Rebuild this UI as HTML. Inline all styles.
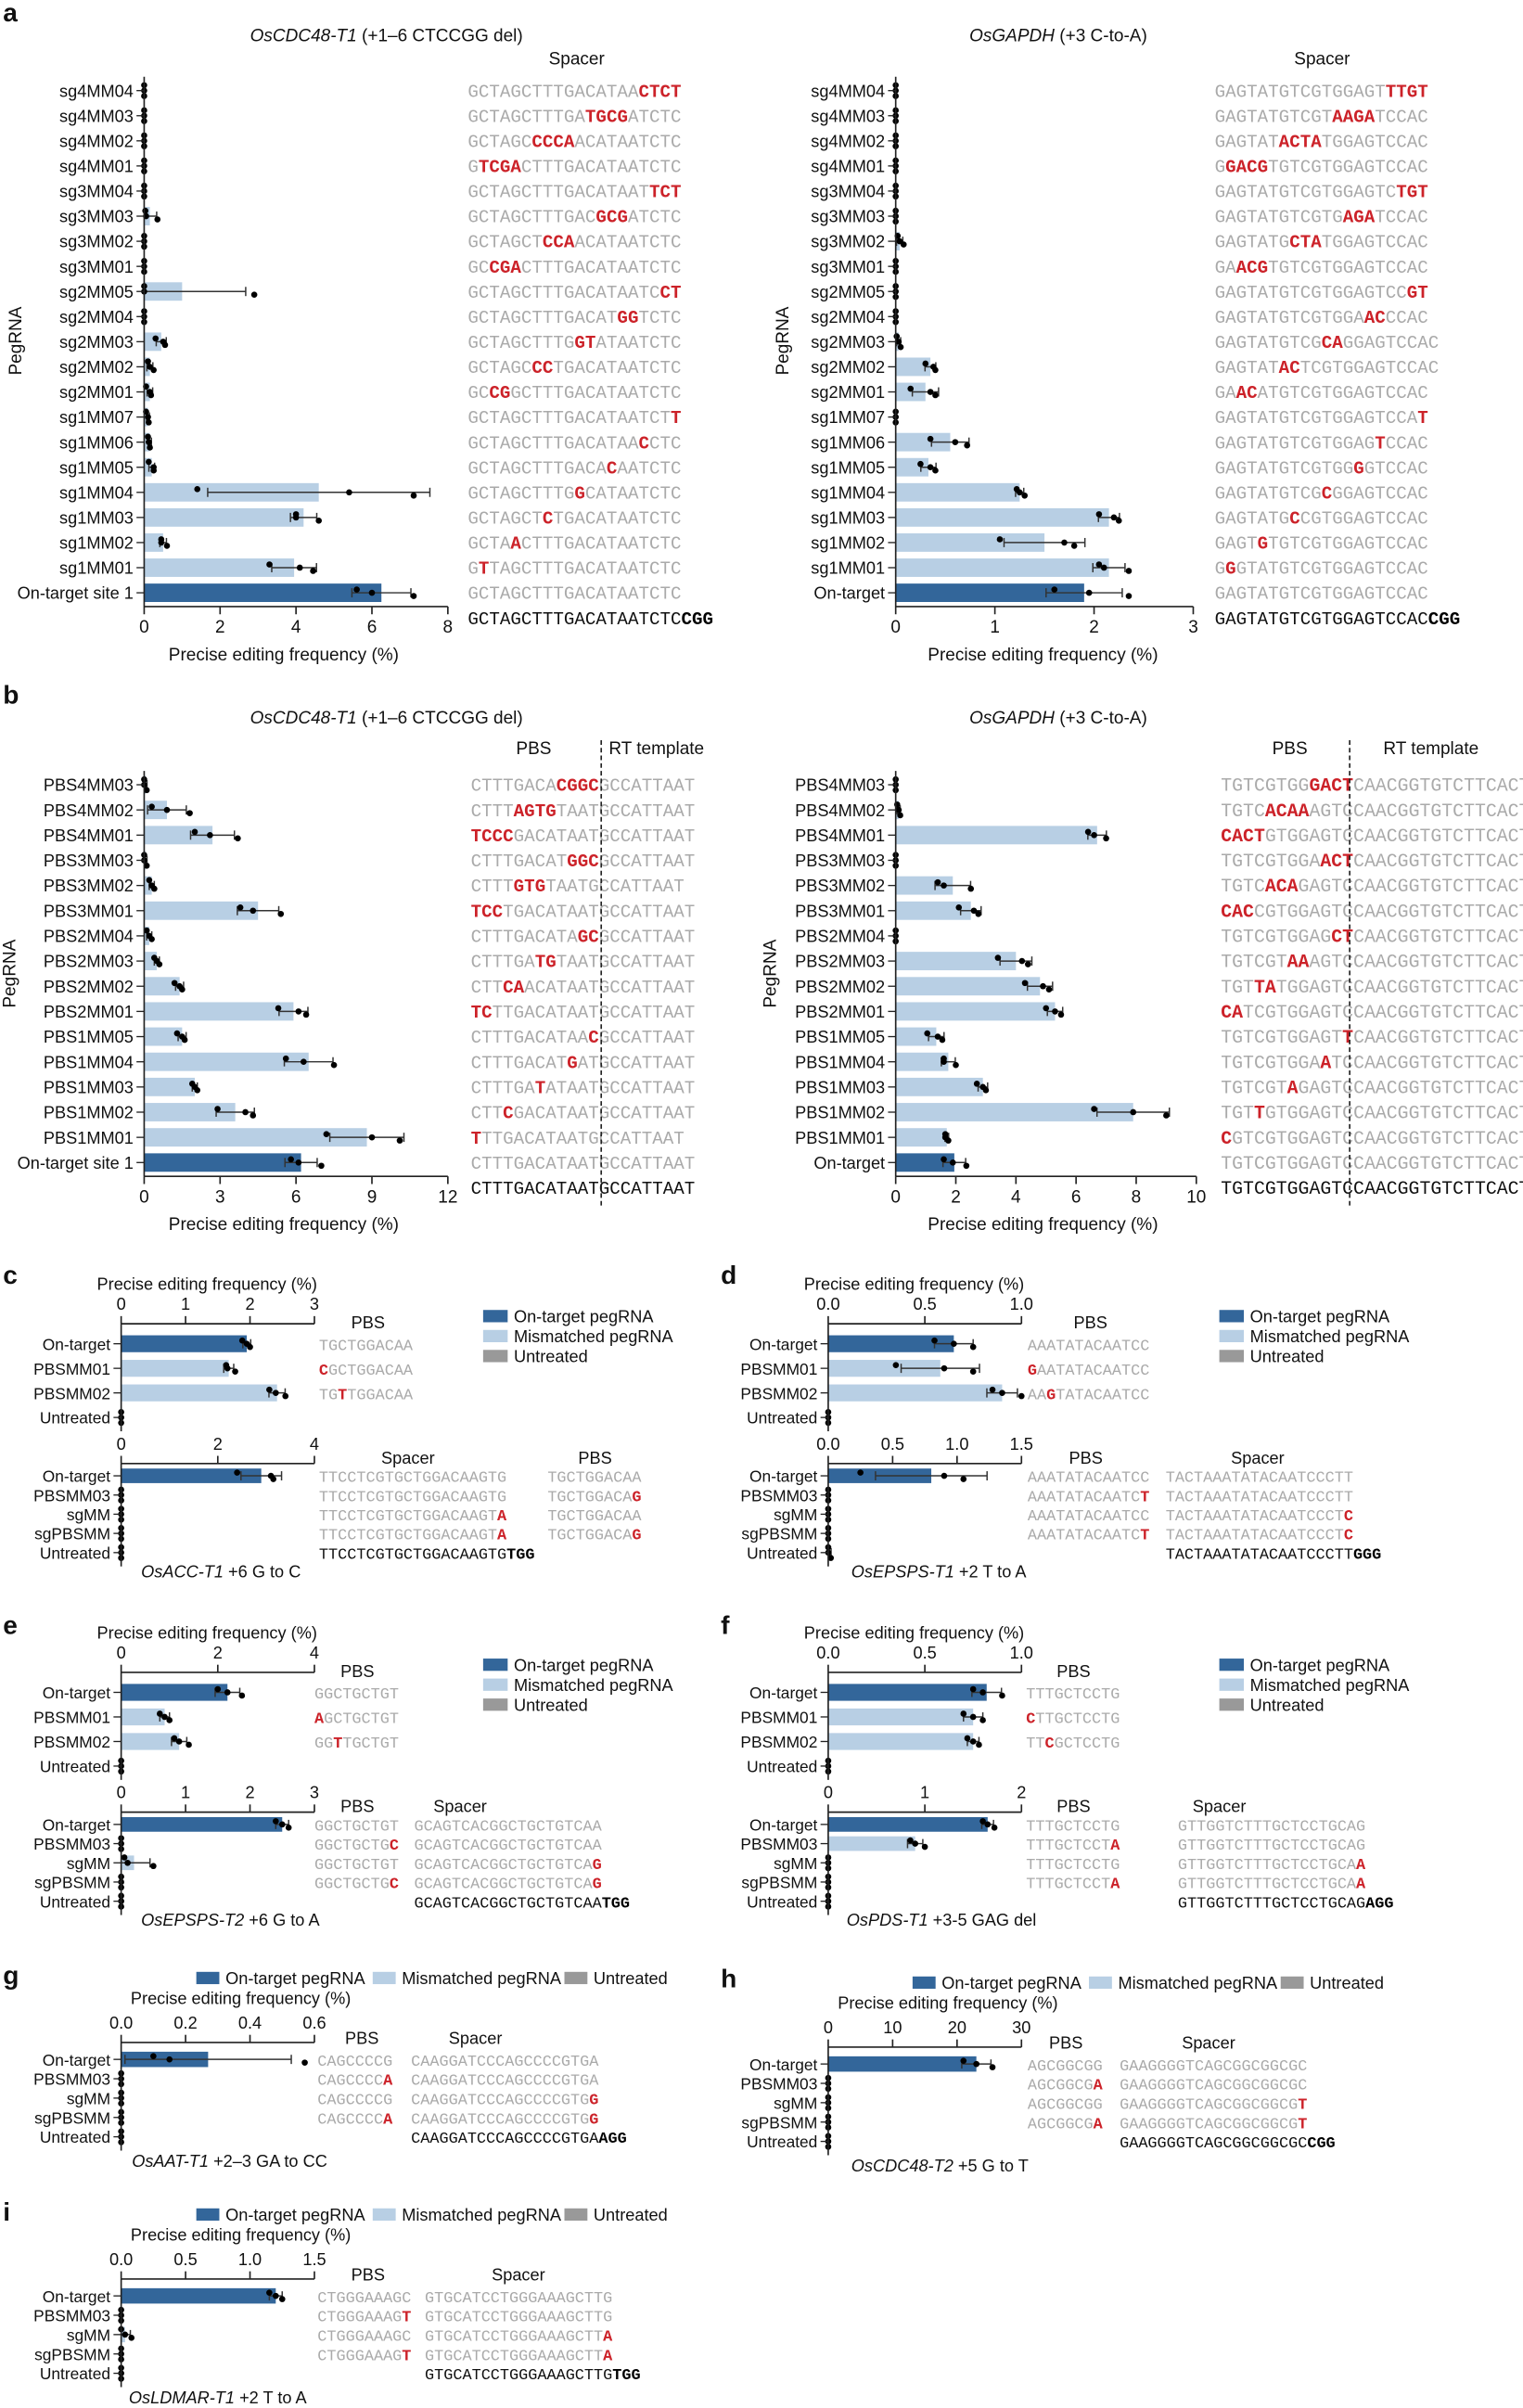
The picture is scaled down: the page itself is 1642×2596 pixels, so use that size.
<!DOCTYPE html>
<html><head><meta charset="utf-8"><style>
html,body{margin:0;padding:0;background:#fff}
svg{display:block}
text{font-family:"Liberation Sans Narrow","Liberation Sans",sans-serif;fill:#111}
.seq{font-family:"Liberation Mono",monospace}
</style></head><body>
<svg id="fig" xmlns="http://www.w3.org/2000/svg" width="1642" height="2596" viewBox="0 0 993 1568" preserveAspectRatio="none"></svg>
<script>
// ---------- DATA ----------
const aLCats=["sg4MM04","sg4MM03","sg4MM02","sg4MM01","sg3MM04","sg3MM03","sg3MM02","sg3MM01","sg2MM05","sg2MM04","sg2MM03","sg2MM02","sg2MM01","sg1MM07","sg1MM06","sg1MM05","sg1MM04","sg1MM03","sg1MM02","sg1MM01","On-target site 1"];
const aLVals=[0,0,0,0,0,0.15,0,0,1.0,0,0.45,0.15,0.15,0.1,0.15,0.2,4.6,4.2,0.5,3.95,6.25];
const aLDots=[[0,0,0],[0,0,0],[0,0,0],[0,0,0],[0,0,0],[0.03,0.05,0.35],[0,0,0],[0,0,0],[0,0,2.9],[0,0,0],[0.3,0.5,0.55],[0.1,0.15,0.25],[0.05,0.15,0.18],[0.05,0.1,0.12],[0.1,0.12,0.15],[0.12,0.25,0.25],[1.4,5.4,7.1],[4.0,4.0,4.6],[0.45,0.45,0.6],[3.3,4.1,4.45],[5.6,6.0,7.1]];
const aLSeqs=["GCTAGCTTTGACATAA[CTCT]","GCTAGCTTTGA[TGCG]ATCTC","GCTAGC[CCCA]ACATAATCTC","G[TCGA]CTTTGACATAATCTC","GCTAGCTTTGACATAAT[TCT]","GCTAGCTTTGAC[GCG]ATCTC","GCTAGCT[CCA]ACATAATCTC","GC[CGA]CTTTGACATAATCTC","GCTAGCTTTGACATAATC[CT]","GCTAGCTTTGACAT[GG]TCTC","GCTAGCTTTG[GT]ATAATCTC","GCTAGC[CC]TGACATAATCTC","GC[CG]GCTTTGACATAATCTC","GCTAGCTTTGACATAATCT[T]","GCTAGCTTTGACATAA[C]CTC","GCTAGCTTTGACA[C]AATCTC","GCTAGCTTTG[G]CATAATCTC","GCTAGCT[C]TGACATAATCTC","GCTA[A]CTTTGACATAATCTC","G[T]TAGCTTTGACATAATCTC","GCTAGCTTTGACATAATCTC","<GCTAGCTTTGACATAATCTC{CGG}"];
const aLTicks=[0,2,4,6,8];

const aRCats=["sg4MM04","sg4MM03","sg4MM02","sg4MM01","sg3MM04","sg3MM03","sg3MM02","sg3MM01","sg2MM05","sg2MM04","sg2MM03","sg2MM02","sg2MM01","sg1MM07","sg1MM06","sg1MM05","sg1MM04","sg1MM03","sg1MM02","sg1MM01","On-target"];
const aRVals=[0,0,0,0,0,0,0.04,0,0,0,0.03,0.35,0.3,0,0.55,0.33,1.25,2.15,1.5,2.15,1.9];
const aRDots=[[0,0,0],[0,0,0],[0,0,0],[0,0,0],[0,0,0],[0,0,0],[0.02,0.04,0.08],[0,0,0],[0,0,0],[0,0,0],[0.01,0.03,0.05],[0.3,0.38,0.4],[0.15,0.35,0.4],[0,0,0],[0.35,0.6,0.72],[0.25,0.35,0.4],[1.22,1.25,1.3],[2.05,2.2,2.25],[1.05,1.7,1.8],[2.05,2.1,2.35],[1.6,1.95,2.35]];
const aRSeqs=["GAGTATGTCGTGGAGT[TTGT]","GAGTATGTCGT[AAGA]TCCAC","GAGTAT[ACTA]TGGAGTCCAC","G[GACG]TGTCGTGGAGTCCAC","GAGTATGTCGTGGAGTC[TGT]","GAGTATGTCGTG[AGA]TCCAC","GAGTATG[CTA]TGGAGTCCAC","GA[ACG]TGTCGTGGAGTCCAC","GAGTATGTCGTGGAGTCC[GT]","GAGTATGTCGTGGA[AC]CCAC","GAGTATGTCG[CA]GGAGTCCAC","GAGTAT[AC]TCGTGGAGTCCAC","GA[AC]ATGTCGTGGAGTCCAC","GAGTATGTCGTGGAGTCCA[T]","GAGTATGTCGTGGAG[T]CCAC","GAGTATGTCGTGG[G]GTCCAC","GAGTATGTCG[C]GGAGTCCAC","GAGTATG[C]CGTGGAGTCCAC","GAGT[G]TGTCGTGGAGTCCAC","G[G]GTATGTCGTGGAGTCCAC","GAGTATGTCGTGGAGTCCAC","<GAGTATGTCGTGGAGTCCAC{CGG}"];
const aRTicks=[0,1,2,3];

const bLCats=["PBS4MM03","PBS4MM02","PBS4MM01","PBS3MM03","PBS3MM02","PBS3MM01","PBS2MM04","PBS2MM03","PBS2MM02","PBS2MM01","PBS1MM05","PBS1MM04","PBS1MM03","PBS1MM02","PBS1MM01","On-target site 1"];
const bLVals=[0.05,0.9,2.7,0.05,0.3,4.5,0.2,0.5,1.4,5.9,1.5,6.5,2.0,3.6,8.8,6.2];
const bLDots=[[0,0,0.1],[0.3,0.9,1.8],[2.0,2.6,3.7],[0,0,0.1],[0.2,0.3,0.4],[3.8,4.3,5.4],[0.1,0.2,0.3],[0.4,0.5,0.6],[1.2,1.4,1.5],[5.3,6.1,6.4],[1.3,1.5,1.6],[5.6,6.3,7.5],[1.9,2.0,2.1],[2.9,4.0,4.3],[7.2,9.0,10.1],[5.8,6.1,7.0]];
const bLSeqs=["CTTTGACA[CGGC]GCCATTAAT","CTTT[AGTG]TAATGCCATTAAT","[TCCC]GACATAATGCCATTAAT","CTTTGACAT[GGC]GCCATTAAT","CTTT[GTG]TAATGCCATTAAT","[TCC]TGACATAATGCCATTAAT","CTTTGACATA[GC]GCCATTAAT","CTTTGA[TG]TAATGCCATTAAT","CTT[CA]ACATAATGCCATTAAT","[TC]TTGACATAATGCCATTAAT","CTTTGACATAA[C]GCCATTAAT","CTTTGACAT[G]ATGCCATTAAT","CTTTGA[T]ATAATGCCATTAAT","CTT[C]GACATAATGCCATTAAT","[T]TTGACATAATGCCATTAAT","CTTTGACATAATGCCATTAAT","<CTTTGACATAATGCCATTAAT"];
const bLTicks=[0,3,6,9,12];

const bRCats=["PBS4MM03","PBS4MM02","PBS4MM01","PBS3MM03","PBS3MM02","PBS3MM01","PBS2MM04","PBS2MM03","PBS2MM02","PBS2MM01","PBS1MM05","PBS1MM04","PBS1MM03","PBS1MM02","PBS1MM01","On-target"];
const bRVals=[0,0.1,6.7,0,1.9,2.5,0,4.0,4.8,5.3,1.35,1.75,2.9,7.9,1.7,1.95];
const bRDots=[[0,0,0],[0.05,0.1,0.15],[6.4,6.6,7.0],[0,0,0],[1.4,1.6,2.5],[2.1,2.6,2.75],[0,0,0],[3.4,4.2,4.4],[4.3,4.9,5.1],[5.0,5.3,5.5],[1.05,1.4,1.55],[1.6,1.6,2.0],[2.7,2.9,3.0],[6.6,7.9,9.0],[1.65,1.65,1.75],[1.6,1.9,2.35]];
const bRSeqs=["TGTCGTGG[GACT]CAACGGTGTCTTCACT","TGTC[ACAA]AGTCCAACGGTGTCTTCACT","[CACT]GTGGAGTCCAACGGTGTCTTCACT","TGTCGTGGA[ACT]CAACGGTGTCTTCACT","TGTC[ACA]GAGTCCAACGGTGTCTTCACT","[CAC]CGTGGAGTCCAACGGTGTCTTCACT","TGTCGTGGAG[CT]CAACGGTGTCTTCACT","TGTCGT[AA]AGTCCAACGGTGTCTTCACT","TGT[TA]TGGAGTCCAACGGTGTCTTCACT","[CA]TCGTGGAGTCCAACGGTGTCTTCACT","TGTCGTGGAGT[T]CAACGGTGTCTTCACT","TGTCGTGGA[A]TCCAACGGTGTCTTCACT","TGTCGT[A]GAGTCCAACGGTGTCTTCACT","TGT[T]GTGGAGTCCAACGGTGTCTTCACT","[C]GTCGTGGAGTCCAACGGTGTCTTCACT","TGTCGTGGAGTCCAACGGTGTCTTCACT","<TGTCGTGGAGTCCAACGGTGTCTTCACT"];
const bRTicks=[0,2,4,6,8,10];

const topCats=["On-target","PBSMM01","PBSMM02","Untreated"];
const botCats=["On-target","PBSMM03","sgMM","sgPBSMM","Untreated"];

const cTopVals=[1.95,1.67,2.42,0];
const cTopDots=[[1.88,1.95,2.0],[1.63,1.65,1.77],[2.3,2.4,2.55],[0,0,0]];
const cBotVals=[2.9,0,0,0,0];
const cBotDots=[[2.4,3.1,3.15],[0,0,0],[0,0,0],[0,0,0],[0,0,0]];
const cTopTicks=[0,1,2,3];
const cBotTicks=[0,2,4];

const dTopVals=[0.65,0.58,0.9,0];
const dTopDots=[[0.55,0.65,0.75],[0.35,0.6,0.75],[0.85,0.9,1.0],[0,0,0]];
const dBotVals=[0.8,0,0,0,0.01];
const dBotDots=[[0.25,0.9,1.05],[0,0,0],[0,0,0],[0,0,0],[0,0,0.02]];
const dTopTicks=[0,0.5,1.0];
const dBotTicks=[0,0.5,1.0,1.5];

const eTopVals=[2.2,0.9,1.2,0];
const eTopDots=[[2.0,2.2,2.5],[0.8,0.9,1.0],[1.1,1.2,1.4],[0,0,0]];
const eBotVals=[2.5,0,0.2,0,0];
const eBotDots=[[2.4,2.5,2.6],[0,0,0],[0.05,0.1,0.5],[0,0,0],[0,0,0]];
const eTopTicks=[0,2,4];
const eBotTicks=[0,1,2,3];

const fTopVals=[0.82,0.75,0.75,0];
const fTopDots=[[0.75,0.8,0.9],[0.7,0.75,0.8],[0.72,0.75,0.78],[0,0,0]];
const fBotVals=[1.65,0.9,0,0,0];
const fBotDots=[[1.6,1.65,1.72],[0.85,0.9,1.0],[0,0,0],[0,0,0],[0,0,0]];
const fTopTicks=[0,0.5,1.0];
const fBotTicks=[0,1,2];

const gVals=[0.27,0,0,0,0];
const gDots=[[0.1,0.15,0.57],[0,0,0],[0,0,0],[0,0,0],[0,0,0]];
const gTicks=[0,0.2,0.4,0.6];
const hVals=[23,0,0,0,0];
const hDots=[[21,23,25.5],[0,0,0],[0,0,0],[0,0,0],[0,0,0]];
const hTicks=[0,10,20,30];
const iVals=[1.2,0,0.03,0,0];
const iDots=[[1.15,1.2,1.25],[0,0,0],[0,0.03,0.08],[0,0,0],[0,0,0]];
const iTicks=[0,0.5,1.0,1.5];

// ---------- DRAWING ----------
const NS="http://www.w3.org/2000/svg";
const svg=document.getElementById('fig');
function el(tag,attrs,parent){const e=document.createElementNS(NS,tag);for(const k in attrs)e.setAttribute(k,attrs[k]);(parent||svg).appendChild(e);return e;}
function txt(x,y,s,size,opts,name){opts=opts||{};const t=el('text',{x:x,y:y,'font-size':size,'text-anchor':opts.anchor||'start'});
 if(opts.weight)t.setAttribute('font-weight',opts.weight);if(opts.style)t.setAttribute('font-style',opts.style);if(opts.transform)t.setAttribute('transform',opts.transform);
 
 
 t.textContent=s;return t;}
const DARK="#33669a",LIGHT="#b8cfe4",GRAYB="#999999",RED="#cc2229",SEQG="#aaaaaa";
function colorFor(c){return c.startsWith("On-target")?DARK:(c==="Untreated"?GRAYB:LIGHT);}

function seq(x,y,s,size,name){
 const t=el('text',{x:x,y:y,'font-size':size,'class':'seq'});
 
 
 let black=false;if(s[0]==='<'){black=true;s=s.slice(1);}
 const re=/(\[[^\]]*\]|\{[^}]*\}|[^\[\{]+)/g;let m;
 while((m=re.exec(s))){const part=m[0];const sp=el('tspan',{},t);
  if(part[0]==='['){sp.textContent=part.slice(1,-1);sp.setAttribute('fill',RED);sp.setAttribute('font-weight','bold');}
  else if(part[0]==='{'){sp.textContent=part.slice(1,-1);sp.setAttribute('fill','#000');sp.setAttribute('font-weight','bold');}
  else {sp.textContent=part;sp.setAttribute('fill',black?'#111':SEQG);}}
 return t;}

function sd(a,m){return Math.sqrt(a.reduce((s,v)=>s+(v-m)*(v-m),0)/(a.length-1));}

function chart(p){
 const g=el('g',{});
 
 
 const X=v=>p.x0+(v/p.max)*(p.x1-p.x0);
 const Y=i=>p.y0+i*p.step;
 const n=p.cats.length;
 p.cats.forEach((c,i)=>{
  const v=p.vals[i];
  if(v>0){const r=el('rect',{x:X(0),y:Y(i)-p.barH/2,width:X(v)-X(0),height:p.barH,fill:colorFor(c)},g);
   
   }
  const d=p.dots[i];const s=sd(d,v);
  if(s>0.001){const lo=Math.max(0,v-s),hi=v+s;
   el('line',{x1:X(lo),x2:X(hi),y1:Y(i),y2:Y(i),stroke:'#333','stroke-width':0.9},g);
   el('line',{x1:X(hi),x2:X(hi),y1:Y(i)-3,y2:Y(i)+3,stroke:'#333','stroke-width':0.9},g);
   if(v-s>0)el('line',{x1:X(lo),x2:X(lo),y1:Y(i)-3,y2:Y(i)+3,stroke:'#333','stroke-width':0.9},g);}
  const offs=[-3.5,0,3.5];
  d.forEach((dv,k)=>{const cc=el('circle',{cx:X(dv),cy:Y(i)+(dv<0.02*p.max?offs[k]:(k===1?0:offs[k]*0.6)),r:2,fill:'#000'},g);
   
   });
  el('line',{x1:X(0)-5,x2:X(0),y1:Y(i),y2:Y(i),stroke:'#222','stroke-width':0.8},g);
  txt(X(0)-7,Y(i)+4,c,p.fs,{anchor:'end'},'category-label');
 });
 const yTop=p.pos==='bottom'?Y(0)-9:p.axisY;
 const yBot=p.pos==='bottom'?p.axisY:Y(n-1)+9;
 el('line',{x1:X(0),x2:X(0),y1:yTop,y2:yBot,stroke:'#222','stroke-width':1},g);
 el('line',{x1:X(0),x2:X(p.max),y1:p.axisY,y2:p.axisY,stroke:'#222','stroke-width':1},g);
 p.ticks.forEach(t=>{
  const dy=p.pos==='bottom'?5:-5;
  el('line',{x1:X(t),x2:X(t),y1:p.axisY,y2:p.axisY+dy,stroke:'#222','stroke-width':1},g);
  const lab=p.tickFmt?p.tickFmt(t):String(t);
  txt(X(t),p.pos==='bottom'?p.axisY+17:p.axisY-9,lab,p.fs+0.5,{anchor:'middle'},'x-tick-label');
 });
 return {X,Y};
}
function legendV(x,y){
 [["On-target pegRNA",DARK],["Mismatched pegRNA",LIGHT],["Untreated",GRAYB]].forEach((l,i)=>{
  const r=el('rect',{x:x,y:y+i*13-5,width:16,height:8,fill:l[1]});
  
  
  txt(x+20,y+i*13+3,l[0],11,{},'legend-entry');});
}
function legendH(x,y){
 let cx=x;
 [["On-target pegRNA",DARK,84],["Mismatched pegRNA",LIGHT,94],["Untreated",GRAYB,50]].forEach(l=>{
  const r=el('rect',{x:cx,y:y-5,width:15,height:8,fill:l[1]});
  
  
  txt(cx+19,y+3,l[0],11,{},'legend-entry');cx+=19+l[2]+12;});
}
function title(x,y,gene,rest,name){const t=el('text',{x:x,y:y,'font-size':11.5,'text-anchor':'middle'});
 
 
 const a=el('tspan',{'font-style':'italic'},t);a.textContent=gene;const b=el('tspan',{},t);b.textContent=rest;}

[["a",2,14],["b",2,458],["c",2,836],["d",470,836],["e",2,1064],["f",470,1064],["g",2,1292],["h",470,1294],["i",2,1446]].forEach(l=>{
 txt(l[1],l[2],l[0],17,{weight:'bold'},'panel-letter-'+l[0]);});

const A_STEP=16.35;
// ---- a ----
title(252,27,"OsCDC48-T1"," (+1–6 CTCCGG del)","panel-a-left-title");
txt(376,42,"Spacer",11.5,{anchor:'middle'},'spacer-header');
chart({name:'panel-a-left-chart',x0:94,x1:292,max:8,ticks:aLTicks,pos:'bottom',axisY:395,y0:59,step:A_STEP,barH:12,cats:aLCats,vals:aLVals,dots:aLDots,fs:11});
aLSeqs.forEach((s,i)=>seq(305,59+i*A_STEP+4,s,11.6,'spacer-sequence'));
txt(185,430,"Precise editing frequency (%)",11.5,{anchor:'middle'},'x-axis-title');
txt(14,222,"PegRNA",11.5,{anchor:'middle',transform:'rotate(-90 14 222)'},'y-axis-title');

title(690,27,"OsGAPDH"," (+3 C-to-A)","panel-a-right-title");
txt(862,42,"Spacer",11.5,{anchor:'middle'},'spacer-header');
chart({name:'panel-a-right-chart',x0:584,x1:778,max:3,ticks:aRTicks,pos:'bottom',axisY:395,y0:59,step:A_STEP,barH:12,cats:aRCats,vals:aRVals,dots:aRDots,fs:11});
aRSeqs.forEach((s,i)=>seq(792,59+i*A_STEP+4,s,11.6,'spacer-sequence'));
txt(680,430,"Precise editing frequency (%)",11.5,{anchor:'middle'},'x-axis-title');
txt(514,222,"PegRNA",11.5,{anchor:'middle',transform:'rotate(-90 514 222)'},'y-axis-title');

// ---- b ----
title(252,471,"OsCDC48-T1"," (+1–6 CTCCGG del)","panel-b-left-title");
txt(348,491,"PBS",11.5,{anchor:'middle'},'pbs-header');
txt(428,491,"RT template",11.5,{anchor:'middle'},'rt-template-header');
chart({name:'panel-b-left-chart',x0:94,x1:292,max:12,ticks:bLTicks,pos:'bottom',axisY:766,y0:511,step:16.4,barH:12,cats:bLCats,vals:bLVals,dots:bLDots,fs:11});
bLSeqs.forEach((s,i)=>seq(307,511+i*16.4+4,s,11.6,'pbs-rt-sequence'));
el('line',{x1:392,x2:392,y1:482,y2:785,stroke:'#222','stroke-width':1,'stroke-dasharray':'3,2'});
txt(185,801,"Precise editing frequency (%)",11.5,{anchor:'middle'},'x-axis-title');
txt(10,634,"PegRNA",11.5,{anchor:'middle',transform:'rotate(-90 10 634)'},'y-axis-title');

title(690,471,"OsGAPDH"," (+3 C-to-A)","panel-b-right-title");
txt(841,491,"PBS",11.5,{anchor:'middle'},'pbs-header');
txt(933,491,"RT template",11.5,{anchor:'middle'},'rt-template-header');
chart({name:'panel-b-right-chart',x0:584,x1:780,max:10,ticks:bRTicks,pos:'bottom',axisY:766,y0:511,step:16.4,barH:12,cats:bRCats,vals:bRVals,dots:bRDots,fs:11});
bRSeqs.forEach((s,i)=>seq(796,511+i*16.4+4,s,12,'pbs-rt-sequence'));
el('line',{x1:880,x2:880,y1:482,y2:785,stroke:'#222','stroke-width':1,'stroke-dasharray':'3,2'});
txt(680,801,"Precise editing frequency (%)",11.5,{anchor:'middle'},'x-axis-title');
txt(506,634,"PegRNA",11.5,{anchor:'middle',transform:'rotate(-90 506 634)'},'y-axis-title');

// ---- c-f ----
const f1=t=>t.toFixed(1);
function panelCF(o){
 txt(o.x0+56,o.y+2,"Precise editing frequency (%)",11,{anchor:'middle'},'x-axis-title');
 chart({name:o.name+'-top-chart',x0:o.x0,x1:o.x0+126,max:o.topMax,ticks:o.topTicks,pos:'top',axisY:o.y+24,y0:o.y+37,step:16,barH:11,cats:topCats,vals:o.topVals,dots:o.topDots,fs:10.5,tickFmt:o.topFmt});
 txt(o.pbsHx,o.y+27,"PBS",11,{anchor:'middle'},'pbs-header');
 o.topSeqs.forEach((s,i)=>seq(o.topSeqX,o.y+37+i*16+4,s,10.2,'pbs-sequence'));
 chart({name:o.name+'-bottom-chart',x0:o.x0,x1:o.x0+126,max:o.botMax,ticks:o.botTicks,pos:'top',axisY:o.y+115,y0:o.y+123,step:12.5,barH:9.5,cats:botCats,vals:o.botVals,dots:o.botDots,fs:10.5,tickFmt:o.botFmt});
 o.heads.forEach(h=>txt(h[0],o.y+115,h[1],11,{anchor:'middle'},h[1].toLowerCase()+'-header'));
 o.cols.forEach(col=>col[1].forEach((s,i)=>{if(s)seq(col[0],o.y+123+i*12.5+4,s,10.2,'sequence');}));
 const t=el('text',{x:o.footX,y:o.y+189,'font-size':11});
 
 
 const a=el('tspan',{'font-style':'italic'},t);a.textContent=o.gene;const b=el('tspan',{},t);b.textContent=o.edit;
 legendV(o.legX,o.y+20);
}
panelCF({name:'panel-c',x0:79,y:838,topMax:3,topTicks:cTopTicks,topVals:cTopVals,topDots:cTopDots,botMax:4,botTicks:cBotTicks,botVals:cBotVals,botDots:cBotDots,
 pbsHx:240,topSeqX:208,topSeqs:["TGCTGGACAA","[C]GCTGGACAA","TG[T]TGGACAA"],
 heads:[[266,"Spacer"],[388,"PBS"]],
 cols:[[208,["TTCCTCGTGCTGGACAAGTG","TTCCTCGTGCTGGACAAGTG","TTCCTCGTGCTGGACAAGT[A]","TTCCTCGTGCTGGACAAGT[A]","<TTCCTCGTGCTGGACAAGTG{TGG}"]],[357,["TGCTGGACAA","TGCTGGACA[G]","TGCTGGACAA","TGCTGGACA[G]",null]]],
 footX:92,gene:"OsACC-T1",edit:"  +6 G to C",legX:315});
panelCF({name:'panel-d',x0:540,y:838,topMax:1.0,topTicks:dTopTicks,topFmt:f1,topVals:dTopVals,topDots:dTopDots,botMax:1.5,botTicks:dBotTicks,botFmt:f1,botVals:dBotVals,botDots:dBotDots,
 pbsHx:711,topSeqX:670,topSeqs:["AAATATACAATCC","[G]AATATACAATCC","AA[G]TATACAATCC"],
 heads:[[708,"PBS"],[820,"Spacer"]],
 cols:[[670,["AAATATACAATCC","AAATATACAATC[T]","AAATATACAATCC","AAATATACAATC[T]",null]],[760,["TACTAAATATACAATCCCTT","TACTAAATATACAATCCCTT","TACTAAATATACAATCCCT[C]","TACTAAATATACAATCCCT[C]","<TACTAAATATACAATCCCTT{GGG}"]]],
 footX:555,gene:"OsEPSPS-T1",edit:"  +2 T to A",legX:795});
panelCF({name:'panel-e',x0:79,y:1065,topMax:4,topTicks:eTopTicks,topVals:eTopVals,topDots:eTopDots,botMax:3,botTicks:eBotTicks,botVals:eBotVals,botDots:eBotDots,
 pbsHx:233,topSeqX:205,topSeqs:["GGCTGCTGT","[A]GCTGCTGT","GG[T]TGCTGT"],
 heads:[[233,"PBS"],[300,"Spacer"]],
 cols:[[205,["GGCTGCTGT","GGCTGCTG[C]","GGCTGCTGT","GGCTGCTG[C]",null]],[270,["GCAGTCACGGCTGCTGTCAA","GCAGTCACGGCTGCTGTCAA","GCAGTCACGGCTGCTGTCA[G]","GCAGTCACGGCTGCTGTCA[G]","<GCAGTCACGGCTGCTGTCAA{TGG}"]]],
 footX:92,gene:"OsEPSPS-T2",edit:"  +6 G to A",legX:315});
panelCF({name:'panel-f',x0:540,y:1065,topMax:1.0,topTicks:fTopTicks,topFmt:f1,topVals:fTopVals,topDots:fTopDots,botMax:2,botTicks:fBotTicks,botVals:fBotVals,botDots:fBotDots,
 pbsHx:700,topSeqX:669,topSeqs:["TTTGCTCCTG","[C]TTGCTCCTG","TT[C]GCTCCTG"],
 heads:[[700,"PBS"],[795,"Spacer"]],
 cols:[[669,["TTTGCTCCTG","TTTGCTCCT[A]","TTTGCTCCTG","TTTGCTCCT[A]",null]],[768,["GTTGGTCTTTGCTCCTGCAG","GTTGGTCTTTGCTCCTGCAG","GTTGGTCTTTGCTCCTGCA[A]","GTTGGTCTTTGCTCCTGCA[A]","<GTTGGTCTTTGCTCCTGCAG{AGG}"]]],
 footX:552,gene:"OsPDS-T1",edit:"  +3-5 GAG del",legX:795});

// ---- g,h,i ----
function panelGHI(o){
 legendH(o.legX,o.y-14);
 txt(o.x0+78,o.y+2,"Precise editing frequency (%)",11,{anchor:'middle'},'x-axis-title');
 chart({name:o.name+'-chart',x0:o.x0,x1:o.x0+126,max:o.max,ticks:o.ticks,pos:'top',axisY:o.y+27,y0:o.y+38,step:12.6,barH:10,cats:botCats,vals:o.vals,dots:o.dots,fs:10.5,tickFmt:o.fmt});
 txt(o.pbsH,o.y+28,"PBS",11,{anchor:'middle'},'pbs-header');
 txt(o.spH,o.y+28,"Spacer",11,{anchor:'middle'},'spacer-header');
 o.cols.forEach(col=>col[1].forEach((s,i)=>{if(s)seq(col[0],o.y+38+i*12.6+4,s,10.2,'sequence');}));
 const t=el('text',{x:o.footX,y:o.y+108,'font-size':11});
 
 
 const a=el('tspan',{'font-style':'italic'},t);a.textContent=o.gene;const b=el('tspan',{},t);b.textContent=o.edit;
}
panelGHI({name:'panel-g',x0:79,y:1303,max:0.6,ticks:gTicks,fmt:f1,vals:gVals,dots:gDots,legX:128,pbsH:236,spH:310,
 cols:[[207,["CAGCCCCG","CAGCCCC[A]","CAGCCCCG","CAGCCCC[A]",null]],[268,["CAAGGATCCCAGCCCCGTGA","CAAGGATCCCAGCCCCGTGA","CAAGGATCCCAGCCCCGTG[G]","CAAGGATCCCAGCCCCGTG[G]","<CAAGGATCCCAGCCCCGTGA{AGG}"]]],
 footX:86,gene:"OsAAT-T1",edit:"  +2–3 GA to CC"});
panelGHI({name:'panel-h',x0:540,y:1306,max:30,ticks:hTicks,vals:hVals,dots:hDots,legX:595,pbsH:695,spH:788,
 cols:[[670,["AGCGGCGG","AGCGGCG[A]","AGCGGCGG","AGCGGCG[A]",null]],[730,["GAAGGGGTCAGCGGCGGCGC","GAAGGGGTCAGCGGCGGCGC","GAAGGGGTCAGCGGCGGCG[T]","GAAGGGGTCAGCGGCGGCG[T]","<GAAGGGGTCAGCGGCGGCGC{CGG}"]]],
 footX:555,gene:"OsCDC48-T2",edit:"  +5 G to T"});
panelGHI({name:'panel-i',x0:79,y:1457,max:1.5,ticks:iTicks,fmt:f1,vals:iVals,dots:iDots,legX:128,pbsH:240,spH:338,
 cols:[[207,["CTGGGAAAGC","CTGGGAAAG[T]","CTGGGAAAGC","CTGGGAAAG[T]",null]],[277,["GTGCATCCTGGGAAAGCTTG","GTGCATCCTGGGAAAGCTTG","GTGCATCCTGGGAAAGCTT[A]","GTGCATCCTGGGAAAGCTT[A]","<GTGCATCCTGGGAAAGCTTG{TGG}"]]],
 footX:84,gene:"OsLDMAR-T1",edit:"  +2 T to A"});
</script>
</body></html>
